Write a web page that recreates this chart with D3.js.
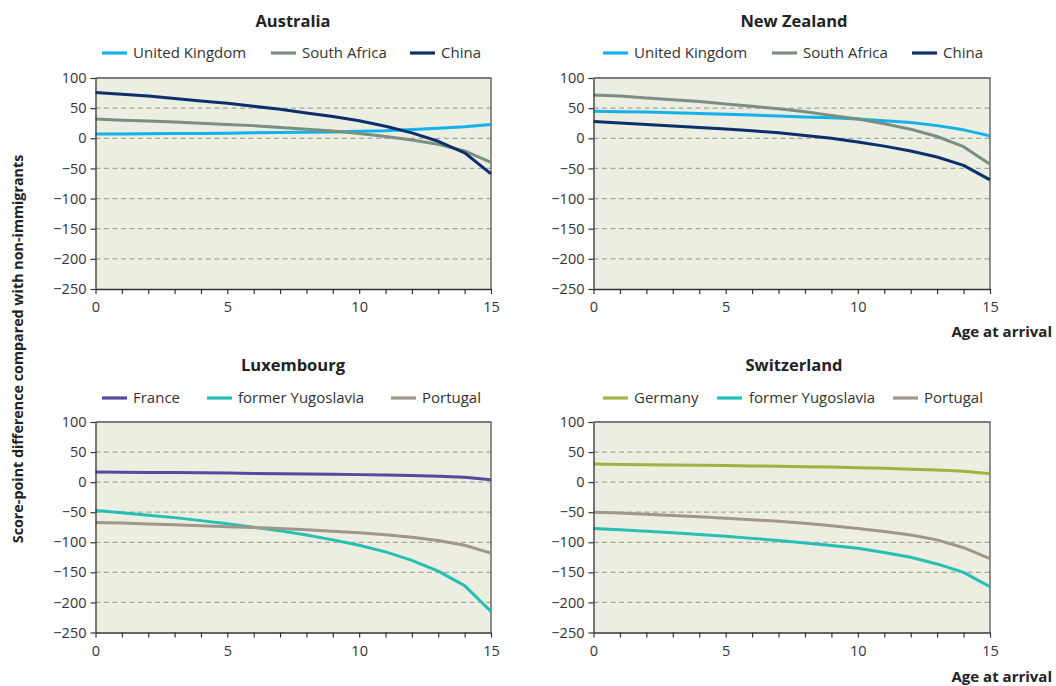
<!DOCTYPE html>
<html>
<head>
<meta charset="utf-8">
<script src="https://cdn.jsdelivr.net/npm/d3@7"></script>
<style>
html,body{margin:0;padding:0;background:#fff;}
svg{display:block;font-family:"Open Sans",sans-serif;}
</style>
</head>
<body>
<svg id="chart" width="1056" height="686"></svg>
<script>
// ---- data ----
const ages = [0,1,2,3,4,5,6,7,8,9,10,11,12,13,14,15];
const yTicks = [100,50,0,-50,-100,-150,-200,-250];
const xTicks = [0,5,10,15];

const ausUK    = [7,7,7.5,8,8,8.5,9,9.5,10,10.5,11.5,12.5,14.5,16.5,19,23];
const ausSA    = [32,30,28.5,27,25,23,21,18,15,12,8,3,-3,-10,-21,-40];
const ausChina = [76,73,70,66,62,58,53,48,42,36,29,20,9,-5,-24,-59];

const nzUK    = [45,44,43.5,42.5,41,40,38.5,37,35.5,34,32,29,26,21,14,4];
const nzSA    = [72,70,67,64,61,57,53,49,44,38,32,24,15,3,-14,-43];
const nzChina = [28,25.5,23,20.5,18,15.5,12.5,9,4.5,0,-6,-13,-21,-31,-45,-69];

const luxFrance   = [17,16.5,16,16,15.5,15,14.5,14,13.5,13,12.5,12,11,10,8,4];
const luxYugo     = [-47,-51,-55,-59,-64,-69,-75,-81,-88,-96,-105,-116,-130,-148,-172,-215];
const luxPortugal = [-67,-68,-69.5,-71,-72.5,-74,-75.5,-77,-79,-81.5,-84,-87.5,-91.5,-97,-105,-118];

const chGermany  = [30,29.5,29,28.5,28,27.5,27,26.5,25.5,25,24,23,21.5,20,18,14];
const chYugo     = [-77,-79,-81.5,-84,-87,-90,-93.5,-97,-101,-105.5,-110,-117,-125,-136,-150,-174];
const chPortugal = [-50,-51.5,-53.5,-55.5,-57.5,-60,-62.5,-65,-68.5,-72.5,-77,-82,-88,-96,-109,-127];

const panelTitles = ["Australia","New Zealand","Luxembourg","Switzerland"];
const seriesNames = [
  ["United Kingdom","South Africa","China"],
  ["United Kingdom","South Africa","China"],
  ["France","former Yugoslavia","Portugal"],
  ["Germany","former Yugoslavia","Portugal"]
];
const seriesValues = [
  [ausUK, ausSA, ausChina],
  [nzUK, nzSA, nzChina],
  [luxFrance, luxYugo, luxPortugal],
  [chGermany, chYugo, chPortugal]
];
const colorMap = {
  "United Kingdom":"#14b1ea",
  "South Africa":"#7b8e80",
  "China":"#0c2f6c",
  "France":"#5549a0",
  "former Yugoslavia":"#25bfb6",
  "Portugal":"#a0968c",
  "Germany":"#a3b142"
};

// ---- layout ----
const panels = [
  {x0:95.5, x1:491, y0:78, y1:289, title:{x:293,y:27}, legend:{y:53, items:[[102,133],[271,302],[410,441]]}},
  {x0:593.5, x1:990, y0:78, y1:289, title:{x:794,y:27}, legend:{y:53, items:[[603,634],[772,803],[912,943]]}},
  {x0:95.5, x1:491, y0:422, y1:632.5, title:{x:293,y:371}, legend:{y:398, items:[[102,133],[207,238],[391,422]]}},
  {x0:593.5, x1:990, y0:422, y1:632.5, title:{x:794,y:371}, legend:{y:398, items:[[603,634],[717,749],[893,924]]}}
];

const svg = d3.select("#chart");

panels.forEach((p,i)=>{
  const x = d3.scaleLinear().domain([0,15]).range([p.x0,p.x1]);
  const y = d3.scaleLinear().domain([-250,100]).range([p.y1,p.y0]);
  const g = svg.append("g");

  g.append("rect").attr("x",p.x0).attr("y",p.y0)
    .attr("width",p.x1-p.x0).attr("height",p.y1-p.y0)
    .attr("fill","#ebeee0");

  g.append("g").selectAll("line")
    .data(yTicks.filter(t=>t<100 && t>-250))
    .join("line")
    .attr("x1",p.x0).attr("x2",p.x1)
    .attr("y1",d=>y(d)).attr("y2",d=>y(d))
    .attr("stroke","#a6a6a0").attr("stroke-width",1.2)
    .attr("stroke-dasharray","5,3.5");

  g.append("path")
    .attr("d",`M${p.x0},${p.y0}H${p.x1}V${p.y1}`)
    .attr("fill","none").attr("stroke","#555").attr("stroke-width",1.3);

  const line = d3.line().x((d,j)=>x(ages[j])).y(d=>y(d));
  seriesValues[i].forEach((vals,k)=>{
    g.append("path").datum(vals)
      .attr("d",line)
      .attr("fill","none")
      .attr("stroke",colorMap[seriesNames[i][k]])
      .attr("stroke-width",3)
      .attr("stroke-linejoin","round");
  });

  const ya = g.append("g").attr("transform",`translate(${p.x0},0)`)
    .call(d3.axisLeft(y).tickValues(yTicks).tickSize(5).tickSizeOuter(0).tickPadding(4));
  ya.select(".domain").attr("stroke","#333").attr("stroke-width",1.3);
  ya.selectAll(".tick line").attr("stroke","#333").attr("stroke-width",1.2);
  ya.selectAll("text").attr("font-size",14.5).attr("fill","#333")
    .attr("font-family","'Open Sans',sans-serif");

  const xa = g.append("g").attr("transform",`translate(0,${p.y1})`)
    .call(d3.axisBottom(x).tickValues(ages).tickSize(5).tickSizeOuter(0)
      .tickFormat(d=>xTicks.includes(d)?d:""));
  xa.select(".domain").attr("stroke","#333").attr("stroke-width",1.3);
  xa.selectAll(".tick line").attr("stroke","#333").attr("stroke-width",1.2);
  xa.selectAll("text").attr("font-size",14.5).attr("fill","#333").attr("dy","1.05em")
    .attr("font-family","'Open Sans',sans-serif");

  g.append("text").attr("x",p.title.x).attr("y",p.title.y)
    .attr("text-anchor","middle").attr("font-weight","bold").attr("font-size",16.5)
    .attr("fill","#222").text(panelTitles[i]);

  seriesNames[i].forEach((name,k)=>{
    const [lx,tx] = p.legend.items[k];
    g.append("line").attr("x1",lx).attr("x2",lx+25)
      .attr("y1",p.legend.y).attr("y2",p.legend.y)
      .attr("stroke",colorMap[name]).attr("stroke-width",3.2);
    g.append("text").attr("x",tx).attr("y",p.legend.y).attr("dy","0.35em")
      .attr("font-size",15).attr("fill","#333").text(name);
  });
});

[332,677].forEach(yy=>{
  svg.append("text").attr("x",1052).attr("y",yy).attr("dy","0.35em")
    .attr("text-anchor","end").attr("font-weight","bold").attr("font-size",15)
    .attr("fill","#222").text("Age at arrival");
});
svg.append("text").attr("transform","translate(18,349) rotate(-90)")
  .attr("dy","0.35em").attr("text-anchor","middle")
  .attr("font-weight","bold").attr("font-size",14.3).attr("fill","#222")
  .text("Score-point difference compared with non-immigrants");
</script>
</body>
</html>
